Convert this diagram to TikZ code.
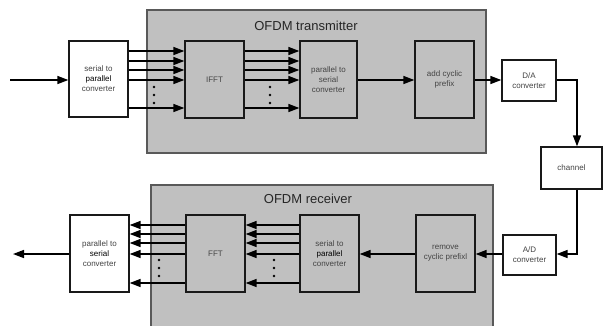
\documentclass[tikz,border=0pt]{standalone}
\usepackage{fontspec}
\setmainfont{Liberation Sans}
\usetikzlibrary{arrows.meta,calc}
\definecolor{panel}{HTML}{C0C0C0}
\definecolor{txt}{HTML}{444444}
\begin{document}
\begin{tikzpicture}[x=1pt,y=-1pt,
  blk/.style={draw=black!90,line width=1.3pt,inner sep=1pt,align=center,
    font=\fontsize{8}{10}\selectfont,text=txt},
  wbox/.style={blk,fill=white},
  gbox/.style={blk,fill=panel},
  arr/.style={line width=1.5pt,-{Triangle[length=11pt,width=8pt]}},
  panelbox/.style={fill=panel,draw=black!65,line width=1.3pt},
  ttl/.style={font=\fontsize{13}{15}\selectfont,text=black!85},
  dotm/.style={circle,fill=black,inner sep=0pt,minimum size=2.8pt}]
\useasboundingbox (0,0) rectangle (603,325);
% panels
\path[panelbox] (147,10) rectangle (486,153);
\fill[panel] (151,185) rectangle (493,326);
\draw[black!65,line width=1.3pt] (151,327) -- (151,185) -- (493,185) -- (493,327);
\node[ttl] (ttx) at (306,26) {OFDM transmitter};
\node[ttl] (trx) at (308,199) {OFDM receiver};
% transmitter blocks
\node[wbox,minimum width=59pt,minimum height=76pt] (s2p) at (98.5,79) {serial to\\\textcolor{black}{parallel}\\converter};
\node[gbox,minimum width=59pt,minimum height=77pt] (ifft) at (214.5,79.5) {IFFT};
\node[gbox,minimum width=57pt,minimum height=77pt] (p2s) at (328.5,79.5) {parallel to\\serial\\converter};
\node[gbox,minimum width=59pt,minimum height=77pt] (acp) at (444.5,79.5) {add cyclic\\prefix};
\node[wbox,minimum width=54pt,minimum height=41pt] (da) at (529,80.5) {D/A\\converter};
\node[wbox,minimum width=61pt,minimum height=42pt] (ch) at (571.5,168) {channel};
% receiver blocks
\node[wbox,minimum width=59pt,minimum height=77pt] (rp2s) at (99.5,253.5) {parallel to\\\textcolor{black}{serial}\\converter};
\node[gbox,minimum width=59pt,minimum height=77pt] (fft) at (215.5,253.5) {FFT};
\node[gbox,minimum width=59pt,minimum height=77pt] (rs2p) at (329.5,253.5) {serial to\\\textcolor{black}{parallel}\\converter};
\node[gbox,minimum width=59pt,minimum height=77pt] (rcp) at (445.5,253.5) {remove\\cyclic prefixl};
\node[wbox,minimum width=53pt,minimum height=40pt] (ad) at (529.5,255) {A/D\\converter};
% free ends
\coordinate (in) at (10,80);
\coordinate (out) at (13,254);
% transmitter connectors
\draw[arr] (in) -- (s2p.west |- in);
\foreach \y in {51,61,70,80,108}{
  \draw[arr] (s2p.east |- 0,\y) -- (ifft.west |- 0,\y);
  \draw[arr] (ifft.east |- 0,\y) -- (p2s.west |- 0,\y);
}
\foreach \y in {87,95,103}{
  \node[dotm] (tdA\y) at (154,\y) {};
  \node[dotm] (tdB\y) at (270,\y) {};
}
\draw[arr] (p2s.east |- 0,80) -- (acp.west |- 0,80);
\draw[arr] (acp.east |- 0,80) -- (da.west |- 0,80);
\draw[arr] (da.east |- 0,80) -| ($(ch.north)+(5.5,0)$);
\draw[arr] ($(ch.south)+(5.5,0)$) |- (ad.east |- 0,254);
% receiver connectors
\draw[arr] (ad.west |- 0,254) -- (rcp.east |- 0,254);
\draw[arr] (rcp.west |- 0,254) -- (rs2p.east |- 0,254);
\foreach \y in {225,234,243,254,283}{
  \draw[arr] (rs2p.west |- 0,\y) -- (fft.east |- 0,\y);
  \draw[arr] (fft.west |- 0,\y) -- (rp2s.east |- 0,\y);
}
\foreach \y in {260,268,276}{
  \node[dotm] (rdA\y) at (159,\y) {};
  \node[dotm] (rdB\y) at (274,\y) {};
}
\draw[arr] (rp2s.west |- out) -- (out);
\end{tikzpicture}
\end{document}
